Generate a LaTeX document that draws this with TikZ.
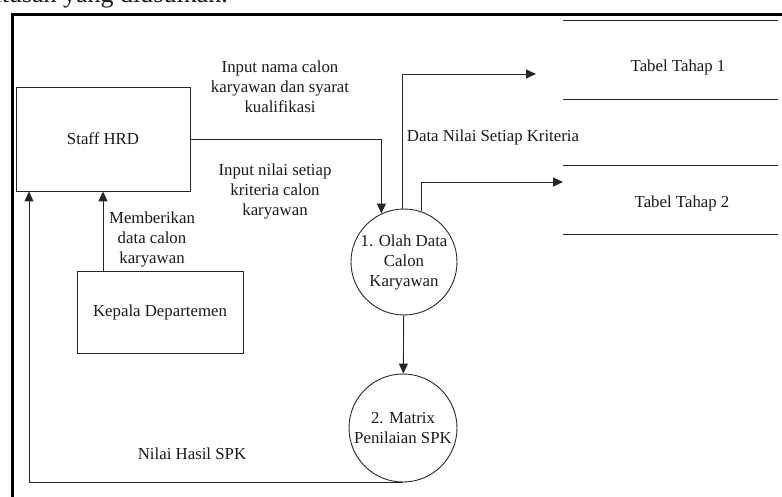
\documentclass[tikz,border=0pt]{standalone}
\usepackage{fontspec}
\setmainfont{Liberation Serif}
\usetikzlibrary{arrows.meta}
\begin{document}
\begin{tikzpicture}[x=1pt,y=-1pt,
  every node/.style={font=\fontsize{16.8}{20}\selectfont, text=black!90},
  entity/.style={draw=black!85, line width=0.9pt, rectangle, align=center, inner sep=0pt},
  process/.style={draw=black!85, line width=0.9pt, circle, align=center, inner sep=0pt, minimum size=106pt},
  flow/.style={draw=black!85, line width=0.9pt, -{Triangle[length=10pt,width=9pt]}},
  storeline/.style={draw=black!85, line width=0.9pt},
  lbl/.style={align=center, inner sep=0pt}]
\useasboundingbox (0,0) rectangle (782,497);

% running text of the page above the figure
\begin{scope}
  \clip (0,0) rectangle (782,497);
  \node[anchor=base east, inner sep=0pt, font=\fontsize{26}{30}\selectfont] (pagetext) at (228,2.5) {keputusan yang diusulkan.};
\end{scope}

% outer frame
\draw[line width=3pt, black] (12.5,497) -- (12.5,15) -- (782,15);

% external entities
\node[entity, minimum width=174pt, minimum height=104pt] (hrd) at (103,139) {Staff HRD};
\node[entity, minimum width=166pt, minimum height=82pt] (kd) at (160,312) {Kepala Departemen};

% processes
\node[process] (p1) at (404,262) {1. Olah Data\\Calon\\Karyawan};
\node[process, minimum size=108pt] (p2) at (403,428) {2. Matrix\\Penilaian SPK};

% data stores
\draw[storeline] (563,20) -- (778,20);
\draw[storeline] (563,99.5) -- (778,99.5);
\node (t1) at (678,67) {Tabel Tahap 1};
\draw[storeline] (563,165) -- (778,165);
\draw[storeline] (563,234) -- (778,234);
\node (t2) at (682,203) {Tabel Tahap 2};

% helper coordinates
\coordinate (kx) at (103,0);
\coordinate (rx) at (29,0);
\coordinate (t1in) at (536,74);
\coordinate (t2in) at (563,182);

% data flows
\draw[flow] (hrd.east) -| (p1.115);
\draw[flow] (p1.92) |- (t1in);
\draw[flow] (p1.71) |- (t2in);
\draw[flow] (p1) -- (p2);
\draw[flow] (kd.north -| kx) -- (hrd.south -| kx);
\draw[flow] (p2.south) -| (hrd.south -| rx);

% flow labels
\node[lbl] (l1) at (280,87) {Input nama calon\\karyawan dan syarat\\kualifikasi};
\node[lbl] (l2) at (275,191) {Input nilai setiap\\kriteria calon\\karyawan};
\node[lbl] (l3) at (493,137) {Data Nilai Setiap Kriteria};
\node[lbl] (l4) at (152,239) {Memberikan\\data calon\\karyawan};
\node[lbl] (l5) at (192,454) {Nilai Hasil SPK};
\end{tikzpicture}
\end{document}
